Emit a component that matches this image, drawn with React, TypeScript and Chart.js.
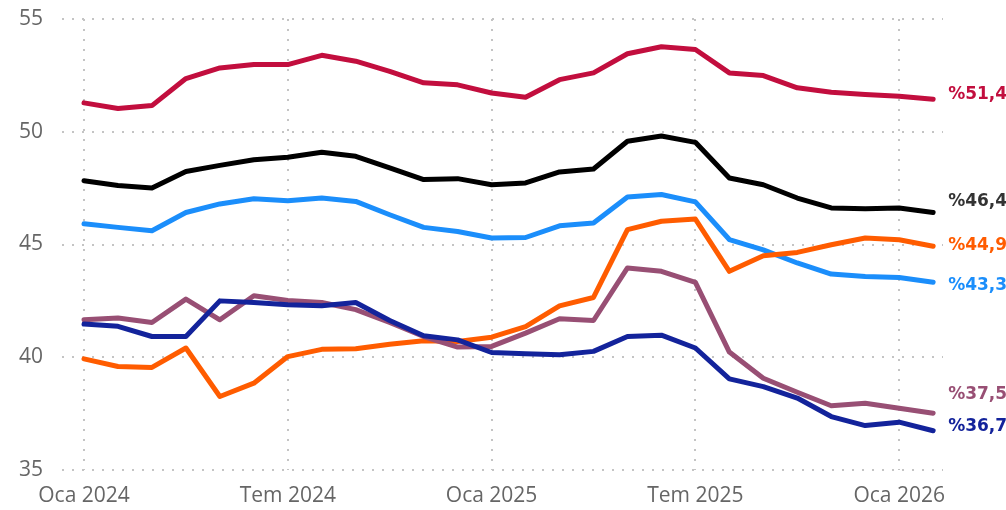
import React, { useEffect, useRef } from "react";
import { Chart, registerables } from "chart.js";

Chart.register(...registerables);

const months = [
  "Oca 2024", "Şub 2024", "Mar 2024", "Nis 2024", "May 2024", "Haz 2024",
  "Tem 2024", "Ağu 2024", "Eyl 2024", "Eki 2024", "Kas 2024", "Ara 2024",
  "Oca 2025", "Şub 2025", "Mar 2025", "Nis 2025", "May 2025", "Haz 2025",
  "Tem 2025", "Ağu 2025", "Eyl 2025", "Eki 2025", "Kas 2025", "Ara 2025",
  "Oca 2026", "Şub 2026",
];

const tickIndexes = [0, 6, 12, 18, 24];
const yTicks = [35, 40, 45, 50, 55];

const redSeries = [51.28, 51.03, 51.16, 52.36, 52.83, 52.98, 52.98, 53.39, 53.13, 52.68, 52.17, 52.08, 51.72, 51.53, 52.31, 52.61, 53.46, 53.77, 53.65, 52.61, 52.49, 51.95, 51.75, 51.65, 51.57, 51.44];
const blackSeries = [47.83, 47.62, 47.51, 48.24, 48.51, 48.76, 48.87, 49.09, 48.91, 48.40, 47.88, 47.92, 47.65, 47.73, 48.22, 48.35, 49.58, 49.81, 49.53, 47.95, 47.65, 47.06, 46.62, 46.59, 46.62, 46.42];
const blueSeries = [45.92, 45.76, 45.61, 46.42, 46.80, 47.03, 46.94, 47.06, 46.91, 46.32, 45.76, 45.58, 45.29, 45.31, 45.83, 45.95, 47.11, 47.22, 46.89, 45.22, 44.76, 44.18, 43.69, 43.58, 43.54, 43.33];
const orangeSeries = [39.93, 39.59, 39.55, 40.41, 38.26, 38.85, 40.03, 40.35, 40.38, 40.58, 40.73, 40.70, 40.89, 41.36, 42.28, 42.65, 45.66, 46.03, 46.13, 43.81, 44.50, 44.65, 44.99, 45.29, 45.21, 44.92];
const mauveSeries = [41.66, 41.74, 41.54, 42.58, 41.66, 42.73, 42.52, 42.43, 42.11, 41.54, 40.92, 40.45, 40.48, 41.07, 41.71, 41.63, 43.96, 43.81, 43.32, 40.23, 39.07, 38.45, 37.85, 37.96, 37.74, 37.52];
const navySeries = [41.47, 41.37, 40.92, 40.92, 42.50, 42.43, 42.33, 42.28, 42.43, 41.63, 40.95, 40.77, 40.21, 40.15, 40.11, 40.26, 40.92, 40.98, 40.41, 39.04, 38.70, 38.19, 37.37, 36.97, 37.12, 36.74];

const seriesStyles = [
  { data: navySeries, color: "#13239B", labelColor: "#13239B", dy: -4 },
  { data: mauveSeries, color: "#984F74", labelColor: "#984F74", dy: -19 },
  { data: orangeSeries, color: "#FF5C00", labelColor: "#FF5C00", dy: -1 },
  { data: blueSeries, color: "#1B8EFB", labelColor: "#1B8EFB", dy: 3 },
  { data: blackSeries, color: "#000000", labelColor: "#333333", dy: -11 },
  { data: redSeries, color: "#C20E3E", labelColor: "#C20E3E", dy: -5 },
];

const endLabelPlugin = {
  id: "endLabels",
  afterDatasetsDraw(chart: any) {
    const ctx = chart.ctx;
    ctx.save();
    ctx.font = 'bold 17px "DejaVu Sans"';
    ctx.textAlign = "left";
    ctx.textBaseline = "middle";
    chart.data.datasets.forEach((ds: any, i: number) => {
      const meta = chart.getDatasetMeta(i);
      const pts = meta.data;
      const last = pts[pts.length - 1];
      const v = ds.data[ds.data.length - 1].y;
      const style = seriesStyles[i];
      ctx.fillStyle = style.labelColor;
      ctx.fillText("%" + v.toFixed(1).replace(".", ","), last.x + 15, last.y + style.dy);
    });
    ctx.restore();
  },
};

export default function App() {
  const ref = useRef<HTMLCanvasElement>(null);
  useEffect(() => {
    if (!ref.current) return;
    const chart = new Chart(ref.current, {
      type: "line",
      data: {
        datasets: seriesStyles.map((s) => ({
          data: s.data.map((v, i) => ({ x: i, y: v })),
          borderColor: s.color,
          backgroundColor: s.color,
          borderWidth: 5,
          pointRadius: 0,
          pointHoverRadius: 0,
          tension: 0,
          borderCapStyle: "round",
          borderJoinStyle: "round",
        })),
      },
      options: {
        animation: false,
        responsive: false,
        maintainAspectRatio: false,
        layout: { padding: { top: 19, right: 63, bottom: 0, left: 0 } },
        plugins: { legend: { display: false }, tooltip: { enabled: false } },
        scales: {
          x: {
            type: "linear",
            min: -0.648,
            max: 25.29,
            afterBuildTicks: (s: any) => {
              s.ticks = tickIndexes.map((v) => ({ value: v }));
            },
            afterFit: (s: any) => {
              s.height = 40;
              s.paddingLeft = 0;
              s.paddingRight = 0;
            },
            ticks: {
              autoSkip: false,
              maxRotation: 0,
              padding: 13,
              color: "#666666",
              font: { family: '"Open Sans"', size: 21 },
              callback: (v: any) => months[v] ?? "",
            },
            grid: { color: "#c4c4c4", lineWidth: 2, drawTicks: false },
            border: { display: false, dash: [2, 8] },
          },
          y: {
            min: 35,
            max: 55,
            afterBuildTicks: (s: any) => {
              s.ticks = yTicks.map((v) => ({ value: v }));
            },
            afterFit: (s: any) => {
              s.width = 62;
              s.paddingTop = 0;
              s.paddingBottom = 0;
            },
            ticks: {
              padding: 19,
              color: "#666666",
              font: { family: '"Open Sans"', size: 21 },
            },
            grid: { color: "#c4c4c4", lineWidth: 2, drawTicks: false },
            border: { display: false, dash: [2, 8] },
          },
        },
      },
      plugins: [endLabelPlugin],
    } as any);
    return () => chart.destroy();
  }, []);
  return (
    <div style={{ position: "fixed", left: 0, top: 0, width: 1006, height: 510, background: "#fff" }}>
      <canvas ref={ref} width={1006} height={510} style={{ width: 1006, height: 510 }} />
    </div>
  );
}
